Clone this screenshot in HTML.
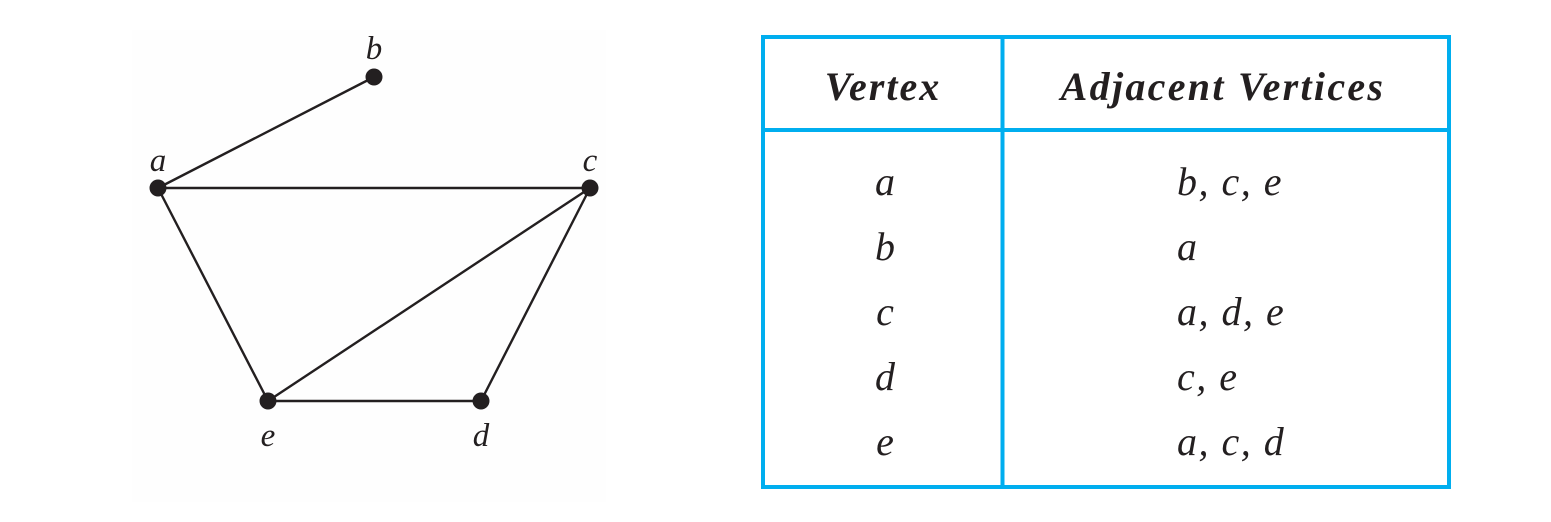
<!DOCTYPE html>
<html><head><meta charset="utf-8"><style>
html,body{margin:0;padding:0;background:#fff;}
svg{display:block;}
text{font-family:"Liberation Serif",serif;fill:#231f20;}
</style></head><body>
<svg width="1551" height="522" viewBox="0 0 1551 522">
<rect x="132" y="30" width="474" height="472" fill="#fefefe"/>
<g id="graph"></g>
<g>
<rect x="763" y="37" width="686" height="450" fill="none" stroke="#00aeef" stroke-width="4"/>
<line x1="1002.5" y1="37" x2="1002.5" y2="487" stroke="#00aeef" stroke-width="4"/>
<line x1="763" y1="130" x2="1449" y2="130" stroke="#00aeef" stroke-width="4"/>
<text x="883" y="100" font-size="40" font-weight="bold" font-style="italic" letter-spacing="2" text-anchor="middle">Vertex</text>
<text x="1223" y="100" font-size="40" font-weight="bold" font-style="italic" letter-spacing="2.3" text-anchor="middle">Adjacent Vertices</text>
<g id="rows"></g>
</g>
</svg>
<script>
const vertexNames=['a','b','c','d','e'];
const vertexX=[158,374,590,481,268];
const vertexY=[188,77,188,401,401];
const labelDX=[0,0,0,0,0];
const labelDY=[-17,-18,-17,45,45];
const edges=[['a','b'],['a','c'],['a','e'],['c','e'],['c','d'],['e','d']];
const adjacency=['b, c, e','a','a, d, e','c, e','a, c, d'];
const rowY=[195,260,325,390,455];
const ns='http://www.w3.org/2000/svg';
const g=document.getElementById('graph');
function idx(n){return vertexNames.indexOf(n);}
edges.forEach(e=>{
 const i=idx(e[0]),j=idx(e[1]);
 const l=document.createElementNS(ns,'line');
 l.setAttribute('x1',vertexX[i]);l.setAttribute('y1',vertexY[i]);
 l.setAttribute('x2',vertexX[j]);l.setAttribute('y2',vertexY[j]);
 l.setAttribute('stroke','#231f20');l.setAttribute('stroke-width','2.4');
 
 
 g.appendChild(l);
});
vertexNames.forEach((n,i)=>{
 const c=document.createElementNS(ns,'circle');
 c.setAttribute('cx',vertexX[i]);c.setAttribute('cy',vertexY[i]);c.setAttribute('r','8.5');
 c.setAttribute('fill','#231f20');
 
 
 g.appendChild(c);
 const t=document.createElementNS(ns,'text');
 t.setAttribute('x',vertexX[i]+labelDX[i]);t.setAttribute('y',vertexY[i]+labelDY[i]);
 t.setAttribute('font-size','33');t.setAttribute('font-style','italic');t.setAttribute('text-anchor','middle');
 t.textContent=n;
 
 
 g.appendChild(t);
});
const rows=document.getElementById('rows');
vertexNames.forEach((n,i)=>{
 const a=document.createElementNS(ns,'text');
 a.setAttribute('x',885);a.setAttribute('y',rowY[i]);a.setAttribute('font-size','40');
 a.setAttribute('font-style','italic');a.setAttribute('text-anchor','middle');
 a.textContent=n;
 
 
 rows.appendChild(a);
 const b=document.createElementNS(ns,'text');
 b.setAttribute('x',1177);b.setAttribute('y',rowY[i]);b.setAttribute('font-size','40');
 b.setAttribute('font-style','italic');b.setAttribute('letter-spacing','1.5');
 b.textContent=adjacency[i];
 
 
 rows.appendChild(b);
});
</script>
</body></html>
